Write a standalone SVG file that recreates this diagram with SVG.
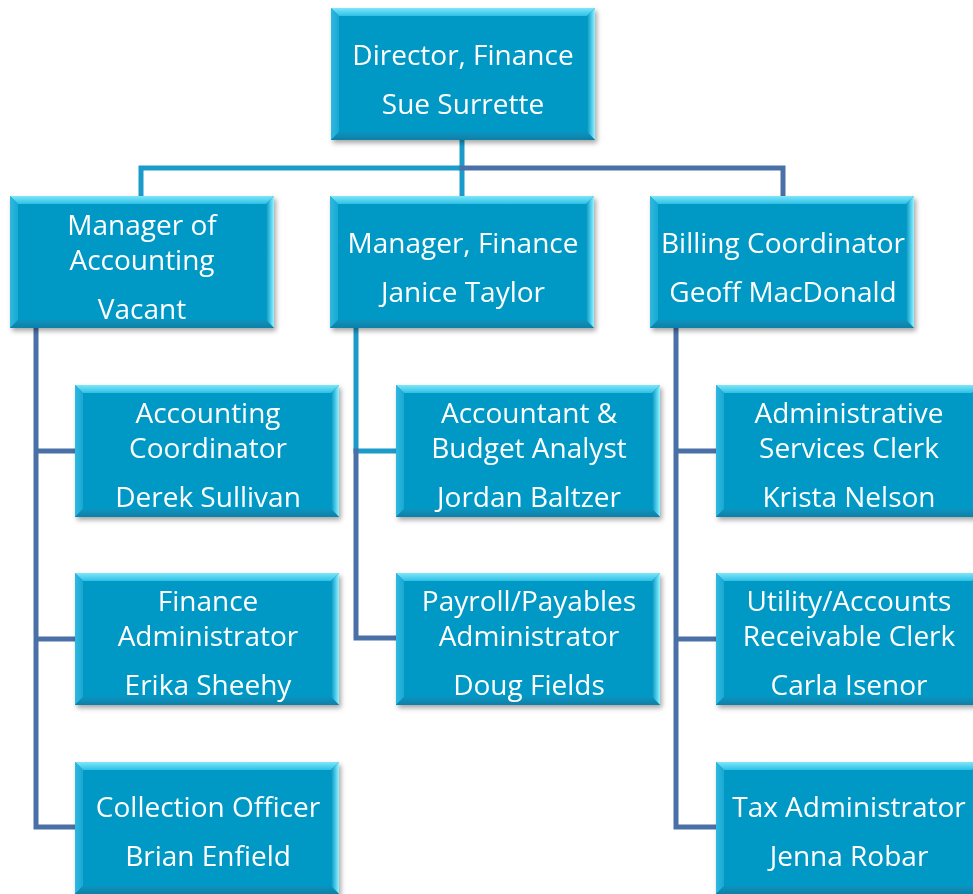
<svg xmlns="http://www.w3.org/2000/svg" width="973" height="894" viewBox="0 0 973 894">
<defs>
<filter id="sh" x="-10%" y="-10%" width="125%" height="130%">
<feDropShadow dx="2" dy="3" stdDeviation="2.5" flood-color="#000" flood-opacity="0.35"/>
</filter>
<linearGradient id="gt" x1="0" y1="0" x2="0" y2="1">
<stop offset="0" stop-color="#7fe6fa"/>
<stop offset="1" stop-color="#2cc0e6"/>
</linearGradient>
<linearGradient id="gb" x1="0" y1="0" x2="0" y2="1">
<stop offset="0" stop-color="#0a93be"/>
<stop offset="1" stop-color="#0880a8"/>
</linearGradient>
<linearGradient id="gl" x1="0" y1="0" x2="1" y2="0">
<stop offset="0" stop-color="#30b8e0"/>
<stop offset="1" stop-color="#1aa8d2"/>
</linearGradient>
<linearGradient id="gr" x1="0" y1="0" x2="1" y2="0">
<stop offset="0" stop-color="#0a93be"/>
<stop offset="0.6" stop-color="#4cd0ee"/>
<stop offset="1" stop-color="#9ef0fc"/>
</linearGradient>
<g id="box">
<rect x="0" y="0" width="264" height="132" fill="#0399c6"/>
<polygon points="0,0 264,0 256,8 8,8" fill="url(#gt)"/>
<polygon points="0,0 8,8 8,124 0,132" fill="url(#gl)"/>
<polygon points="264,0 264,132 256,124 256,8" fill="url(#gr)"/>
<polygon points="0,132 8,124 256,124 264,132" fill="url(#gb)"/>
</g>
</defs>
<style>
.t{font-family:"Open Sans",Lato,sans-serif;font-size:28px;fill:#ffffff;text-anchor:middle}
.c{fill:none;stroke-width:5;stroke-linecap:square}
.teal{stroke:#1b9bc9}
.blue{stroke:#4a70a8}
</style>
<rect width="973" height="894" fill="#ffffff"/>
<g id="connectors">
<path class="c teal" d="M462,140 V168 M141,196 V168 H462 V196"/>
<path class="c blue" d="M462,168 H783 V196"/>
<path class="c blue" d="M36,328 V827 H75 M36,451 H75 M36,639 H75"/>
<path class="c teal" d="M356,328 V451 H396"/>
<path class="c blue" d="M356,451 V638 H396"/>
<path class="c blue" d="M676,328 V827 H716 M676,451 H716 M676,639 H716"/>
</g>
<g id="director" filter="url(#sh)"><use href="#box" x="331" y="8"/>
<text class="t" x="463" y="65">Director, Finance</text><text class="t" x="463" y="114">Sue Surrette</text></g>
<g id="mgr-accounting" filter="url(#sh)"><use href="#box" x="10" y="196"/>
<text class="t" x="142" y="235">Manager of</text><text class="t" x="142" y="270">Accounting</text><text class="t" x="142" y="319">Vacant</text></g>
<g id="mgr-finance" filter="url(#sh)"><use href="#box" x="330" y="196"/>
<text class="t" x="463" y="253">Manager, Finance</text><text class="t" x="463" y="302">Janice Taylor</text></g>
<g id="billing" filter="url(#sh)"><use href="#box" x="650" y="196"/>
<text class="t" x="783" y="253">Billing Coordinator</text><text class="t" x="783" y="302">Geoff MacDonald</text></g>
<g id="acct-coord" filter="url(#sh)"><use href="#box" x="75" y="385"/>
<text class="t" x="208" y="423">Accounting</text><text class="t" x="208" y="458">Coordinator</text><text class="t" x="208" y="507">Derek Sullivan</text></g>
<g id="fin-admin" filter="url(#sh)"><use href="#box" x="75" y="573"/>
<text class="t" x="208" y="611">Finance</text><text class="t" x="208" y="646">Administrator</text><text class="t" x="208" y="695">Erika Sheehy</text></g>
<g id="collection" filter="url(#sh)"><use href="#box" x="75" y="762"/>
<text class="t" x="208" y="817">Collection Officer</text><text class="t" x="208" y="866">Brian Enfield</text></g>
<g id="accountant" filter="url(#sh)"><use href="#box" x="396" y="385"/>
<text class="t" x="529" y="423">Accountant &amp;</text><text class="t" x="529" y="458">Budget Analyst</text><text class="t" x="529" y="507">Jordan Baltzer</text></g>
<g id="payroll" filter="url(#sh)"><use href="#box" x="396" y="573"/>
<text class="t" x="529" y="611">Payroll/Payables</text><text class="t" x="529" y="646">Administrator</text><text class="t" x="529" y="695">Doug Fields</text></g>
<g id="admin-clerk" filter="url(#sh)"><use href="#box" x="716" y="385"/>
<text class="t" x="849" y="423">Administrative</text><text class="t" x="849" y="458">Services Clerk</text><text class="t" x="849" y="507">Krista Nelson</text></g>
<g id="utility" filter="url(#sh)"><use href="#box" x="716" y="573"/>
<text class="t" x="849" y="611">Utility/Accounts</text><text class="t" x="849" y="646">Receivable Clerk</text><text class="t" x="849" y="695">Carla Isenor</text></g>
<g id="tax" filter="url(#sh)"><use href="#box" x="716" y="762"/>
<text class="t" x="849" y="817">Tax Administrator</text><text class="t" x="849" y="866">Jenna Robar</text></g>
</svg>
